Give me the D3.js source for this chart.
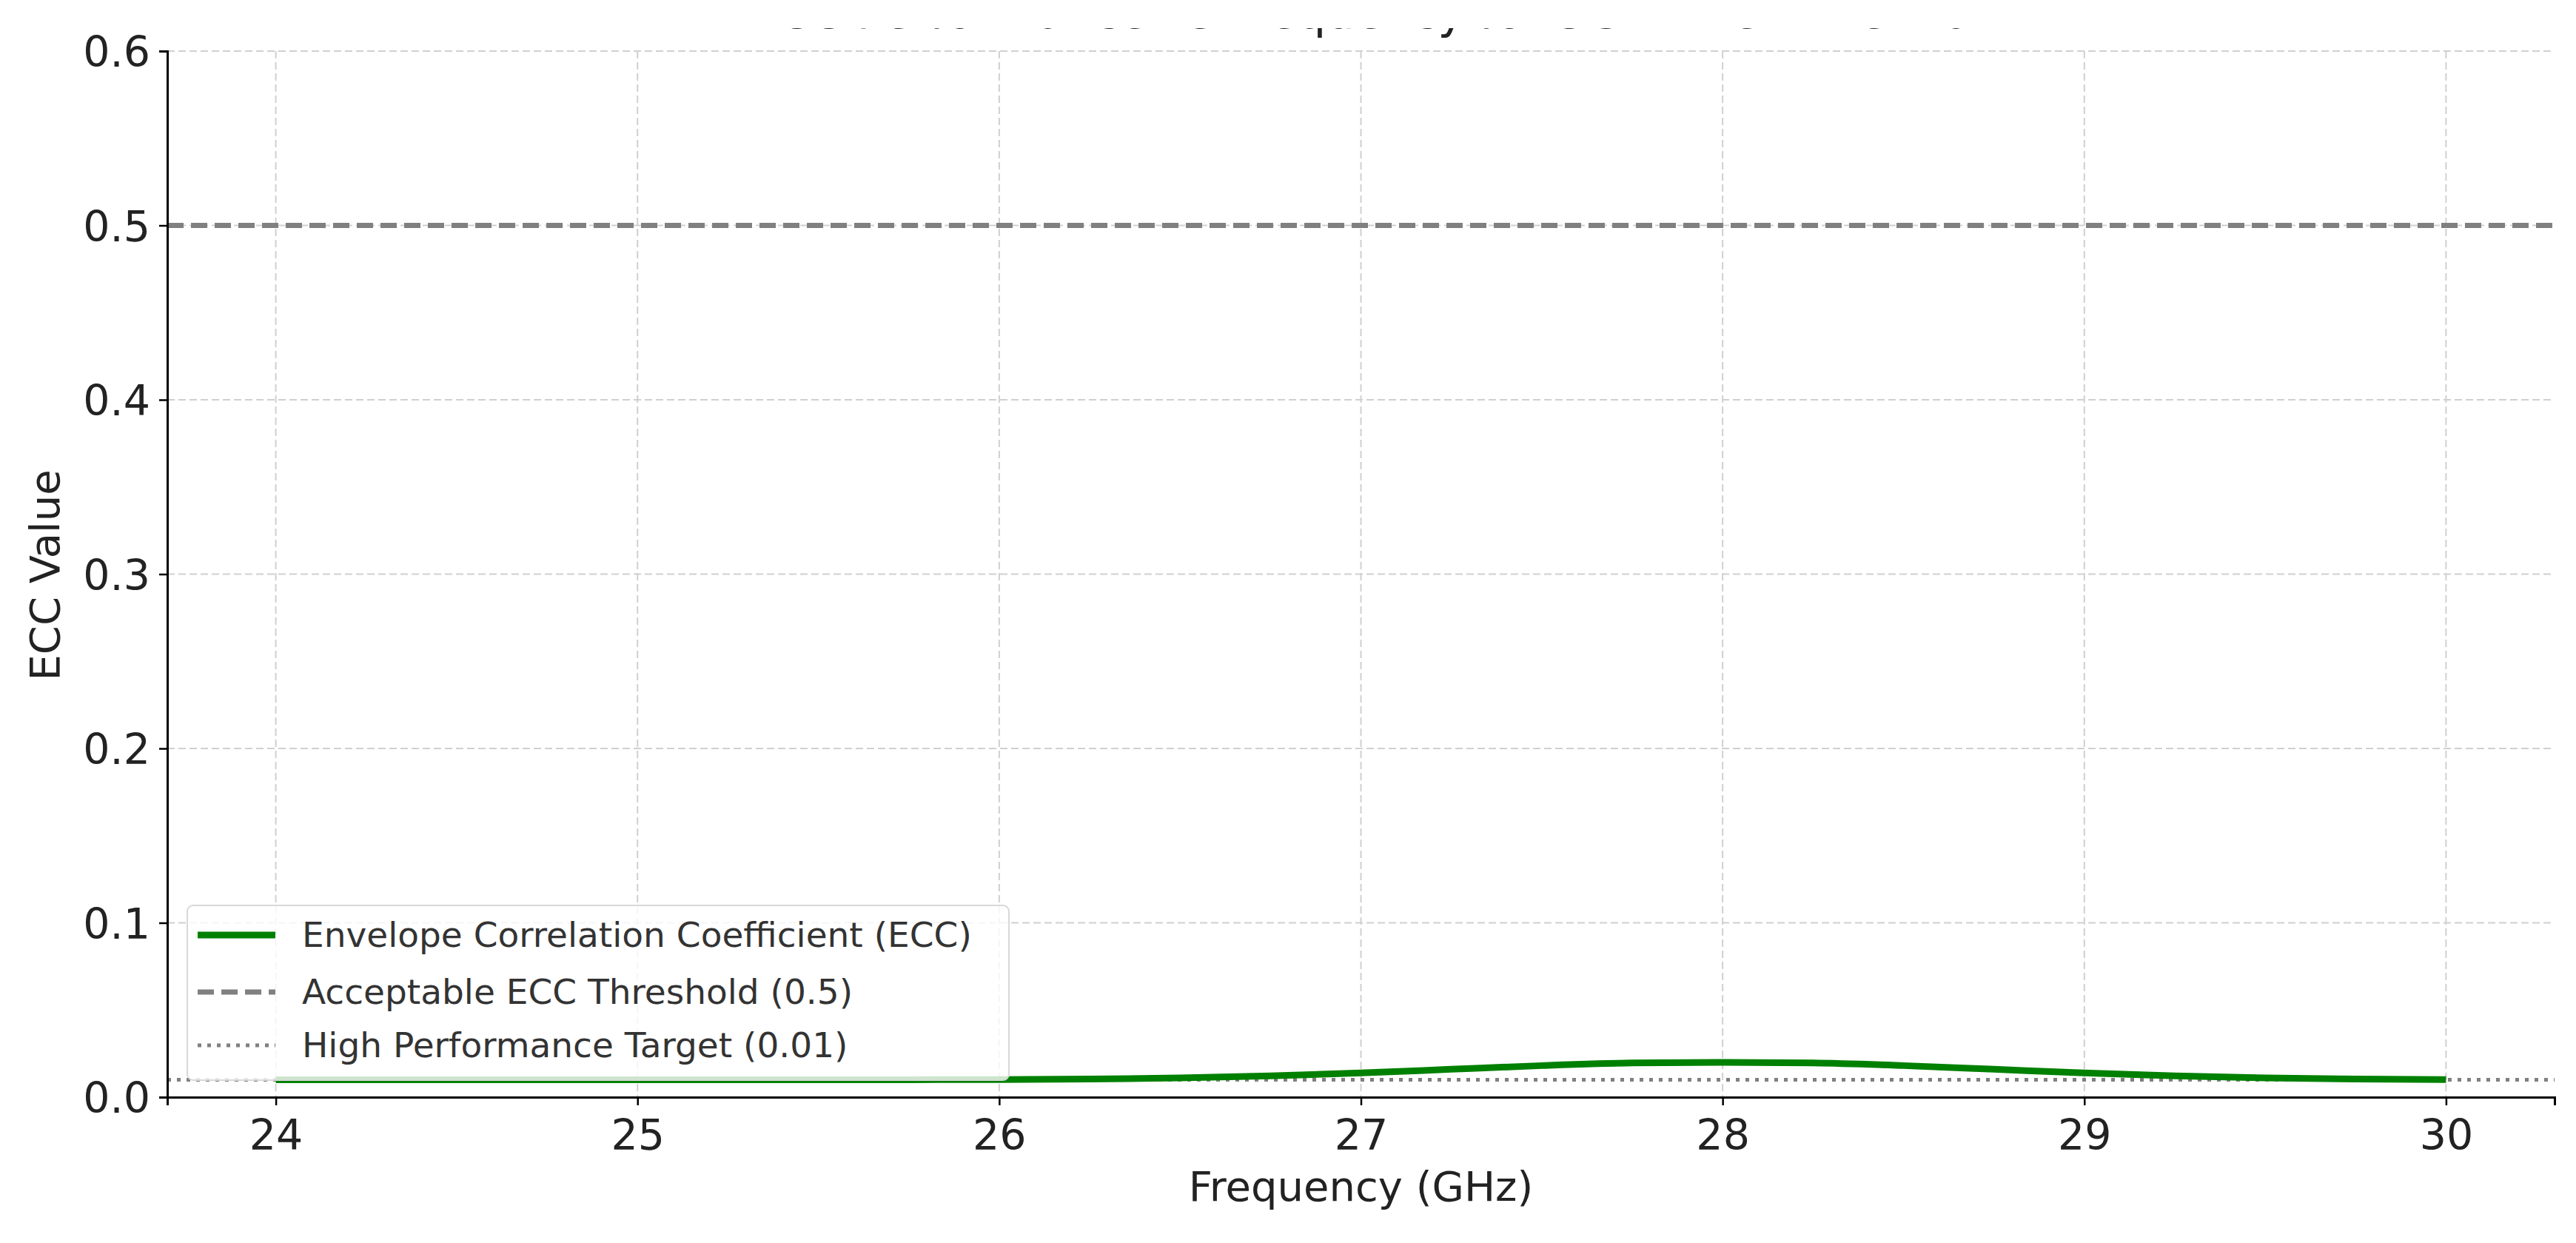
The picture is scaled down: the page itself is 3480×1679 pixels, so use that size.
<!DOCTYPE html>
<html><head><meta charset="utf-8">
<script src="https://cdn.jsdelivr.net/npm/d3@7"></script>
<style>body{margin:0;background:#fff}svg{display:block;font-family:"DejaVu Sans",sans-serif}</style>
</head><body><svg id="c" width="3480" height="1679"></svg>
<script>
const freq = [24,24.25,24.5,24.75,25,25.25,25.5,25.75,26,26.25,26.5,26.75,27,27.25,27.5,27.75,28,28.25,28.5,28.75,29,29.25,29.5,29.75,30];
const ecc  = [0.010,0.010,0.010,0.010,0.010,0.010,0.010,0.010,0.0101,0.0104,0.0110,0.0122,0.0139,0.0160,0.0181,0.0196,0.0200,0.0196,0.0181,0.0160,0.0139,0.0122,0.0110,0.0104,0.0101];
const xTicks = [24,25,26,27,28,29,30];
const yTicks = [0,0.1,0.2,0.3,0.4,0.5,0.6];
const threshold = 0.5, target = 0.01;
const labels = ["Envelope Correlation Coefficient (ECC)","Acceptable ECC Threshold (0.5)","High Performance Target (0.01)"];
const title = "ECC Performance vs Frequency for 5G MIMO Antenna";

const svg = d3.select("#c");
const L=226,R=3451,T=69,B=1482;
const x = d3.scaleLinear().domain([23.7,30.3]).range([L,R]);
const y = d3.scaleLinear().domain([0,0.6]).range([B,T]);

// title (top cropped in the reference; only descenders visible)
svg.append("clipPath").attr("id","tc").append("rect").attr("x",0).attr("y",38).attr("width",3480).attr("height",40);
svg.append("text").attr("clip-path","url(#tc)").attr("x",(L+R)/2).attr("y",38).attr("text-anchor","middle")
  .attr("font-size",62).attr("fill","#222").text(title);

// grid
const g = svg.append("g");
g.selectAll(".gx").data(xTicks).join("line").attr("x1",d=>x(d)).attr("x2",d=>x(d)).attr("y1",T).attr("y2",B)
  .attr("stroke","#d0d0d0").attr("stroke-width",2).attr("stroke-dasharray","10,5");
g.selectAll(".gy").data(yTicks).join("line").attr("y1",d=>y(d)).attr("y2",d=>y(d)).attr("x1",L).attr("x2",R)
  .attr("stroke","#d0d0d0").attr("stroke-width",2).attr("stroke-dasharray","10,5");

// reference lines
svg.append("line").attr("x1",L).attr("x2",R).attr("y1",y(threshold)).attr("y2",y(threshold))
  .attr("stroke","#808080").attr("stroke-width",7).attr("stroke-dasharray","22,10");
svg.append("line").attr("x1",L).attr("x2",R).attr("y1",y(target)).attr("y2",y(target))
  .attr("stroke","#808080").attr("stroke-width",5).attr("stroke-dasharray","5,8");

// ECC curve
svg.append("path").datum(freq.map((f,i)=>[f,ecc[i]]))
  .attr("d",d3.line().x(d=>x(d[0])).y(d=>y(d[1])).curve(d3.curveMonotoneX))
  .attr("fill","none").attr("stroke","#008000").attr("stroke-width",9);

// axes
const ax = svg.append("g").attr("transform",`translate(0,${B})`)
  .call(d3.axisBottom(x).tickValues(xTicks).tickFormat(d3.format("d")).tickSize(11).tickPadding(12));
const ay = svg.append("g").attr("transform",`translate(${L},0)`)
  .call(d3.axisLeft(y).tickValues(yTicks).tickFormat(d3.format(".1f")).tickSize(11).tickPadding(12));
[ax,ay].forEach(a=>{a.select(".domain").attr("stroke","#000").attr("stroke-width",3);
  a.selectAll(".tick line").attr("stroke","#000").attr("stroke-width",2.5);
  a.selectAll(".tick text").attr("font-size",57).attr("fill","#222").attr("font-family","DejaVu Sans");});
ax.selectAll(".tick text").attr("dy","0.85em");
ay.selectAll(".tick text").attr("dy","0.36em");

svg.append("text").attr("x",(L+R)/2).attr("y",1622).attr("text-anchor","middle").attr("font-size",56).attr("fill","#222").text("Frequency (GHz)");
svg.append("text").attr("transform","translate(80,777) rotate(-90)").attr("text-anchor","middle").attr("font-size",56).attr("fill","#222").text("ECC Value");

// legend
const lg = svg.append("g");
lg.append("rect").attr("x",253).attr("y",1223).attr("width",1110).attr("height",236).attr("rx",8)
  .attr("fill","rgba(255,255,255,0.8)").attr("stroke","#d8d8d8").attr("stroke-width",2);
const rowsY=[1263,1340,1412];
const styles=[{c:"#008000",w:9,d:null},{c:"#808080",w:7,d:"22,10"},{c:"#808080",w:5,d:"5,8"}];
labels.forEach((t,i)=>{
  lg.append("line").attr("x1",267).attr("x2",372).attr("y1",rowsY[i]).attr("y2",rowsY[i])
    .attr("stroke",styles[i].c).attr("stroke-width",styles[i].w).attr("stroke-dasharray",styles[i].d);
  lg.append("text").attr("x",408).attr("y",rowsY[i]).attr("dy","0.35em").attr("font-size",47).attr("fill","#333").text(t);
});
</script></body></html>
